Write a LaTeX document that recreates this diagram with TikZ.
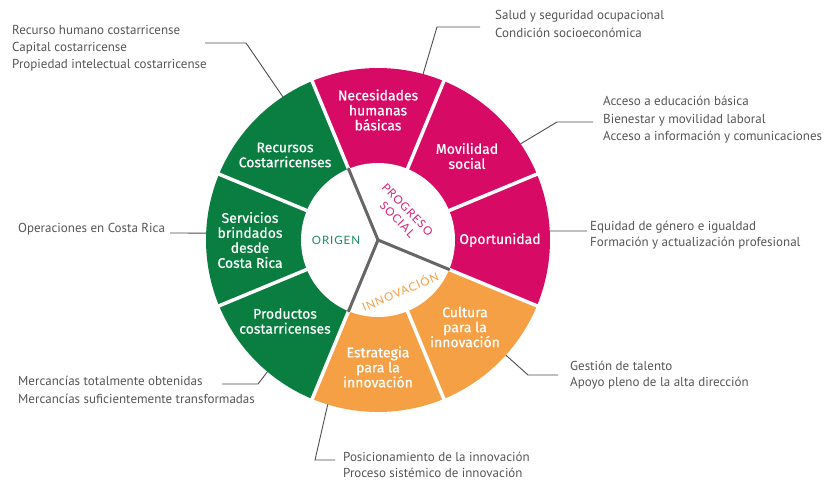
\documentclass[tikz,border=0pt]{standalone}
\usepackage{fontspec}
\setmainfont{PT Sans}
\newfontfamily\segfont[FakeBold=0.6]{Fira Sans}
\newfontfamily\ctrfont[LetterSpace=8]{Lato}
\usetikzlibrary{calc}
\definecolor{mag}{HTML}{D70A65}
\definecolor{grn}{HTML}{0A7D41}
\definecolor{org}{HTML}{F6A046}
\definecolor{spokegray}{HTML}{666666}
\definecolor{txtgray}{HTML}{555555}
\definecolor{linegray}{HTML}{4D4D4D}
\definecolor{ctrgreen}{HTML}{1E8C5F}
\definecolor{ctrmag}{HTML}{D6237A}
\begin{document}
\begin{tikzpicture}[x=1pt,y=1pt,
  seg/.style={text=white, font=\segfont\fontsize{14}{15}\selectfont, align=center, inner sep=0pt},
  note/.style={text=txtgray, font=\fontsize{13}{17}\selectfont, align=left, anchor=west, inner sep=0pt},
  lead/.style={draw=linegray, line width=0.9pt},
  ctr/.style={font=\ctrfont\fontsize{11.5}{14}\selectfont, align=center, inner sep=0pt}]
\useasboundingbox (0,0) rectangle (827,480);
\coordinate (C) at (378,240);
% sectors
\foreach \a/\col in {67.5/mag, 22.5/mag, -22.5/mag, -67.5/org, -112.5/org, -157.5/grn, 157.5/grn, 112.5/grn}
  \fill[\col] (C) -- ($(C)+(\a:172)$) arc[start angle=\a, delta angle=45, radius=172] -- cycle;
% white separators
\foreach \a in {22.5,67.5,112.5,157.5,202.5,247.5,292.5,337.5}
  \draw[white, line width=3.5pt] (C) -- ($(C)+(\a:176)$);
% inner disc
\fill[white] (C) circle[radius=77];
% spokes
\foreach \a in {112.5,-22.5,-112.5}
  \draw[spokegray, line width=3pt, line cap=round] (C) -- ($(C)+(\a:77)$);
% segment labels
\node[seg] (nec) at (378,370) {Necesidades\\humanas\\básicas};
\node[seg] (mov) at (467,324) {Movilidad\\social};
\node[seg] (opo) at (500,240) {Oportunidad};
\node[seg] (cul) at (465,153) {Cultura\\para la\\innovación};
\node[seg] (est) at (378,113) {Estrategia\\para la\\innovación};
\node[seg] (pro) at (285,159) {Productos\\costarricenses};
\node[seg] (ser) at (250,240) {Servicios\\brindados\\desde\\Costa Rica};
\node[seg] (rec) at (285,325) {Recursos\\Costarricenses};
% centre labels
\node[ctr, text=ctrgreen] (origen) at (336,240) {ORIGEN};
\node[ctr, text=ctrmag, rotate=-46] (prog) at (402.5,265.5) {PROGRESO\\SOCIAL};
\node[ctr, text=org, rotate=23] (inno) at (400,189) {INNOVACIÓN};
% notes
\node[note] (n1) at (12,432) {Recurso humano costarricense\\Capital costarricense\\Propiedad intelectual costarricense};
\node[note, font=\fontsize{13}{18}\selectfont] (n2) at (495,456) {Salud y seguridad ocupacional\\Condición socioeconómica};
\node[note, font=\fontsize{13}{17.5}\selectfont] (n3) at (603,360) {Acceso a educación básica\\Bienestar y movilidad laboral\\Acceso a información y comunicaciones};
\node[note, font=\fontsize{13}{16}\selectfont] (n4) at (590,245) {Equidad de género e igualdad\\Formación y actualización profesional};
\node[note] (n5) at (18,251) {Operaciones en Costa Rica};
\node[note, font=\fontsize{13}{18}\selectfont] (n6) at (18,90) {Mercancías totalmente obtenidas\\Mercancías suficientemente transformadas};
\node[note, font=\fontsize{13}{16}\selectfont] (n7) at (343,15) {Posicionamiento de la innovación\\Proceso sistémico de innovación};
\node[note, font=\fontsize{13}{16}\selectfont] (n8) at (570,105) {Gestión de talento\\Apoyo pleno de la alta dirección};
% leader lines
\coordinate (e1) at ($(C)+(123.6:172)$);
\coordinate (e2) at ($(C)+(74.8:172)$);
\coordinate (e3) at ($(C)+(34:172)$);
\coordinate (e4) at ($(C)+(3:172)$);
\coordinate (e5) at ($(C)+(177.7:172)$);
\coordinate (e6) at ($(C)+(230:172)$);
\coordinate (e7) at ($(C)+(253:172)$);
\coordinate (e8) at ($(C)+(-42:172)$);
\coordinate (s1) at (205,437); \coordinate (b1) at (246,437);
\coordinate (s2) at (480,453); \coordinate (b2) at (437,453);
\coordinate (s3) at (593,358); \coordinate (b3) at (557,358);
\coordinate (s4) at (587,249);
\coordinate (s5) at (170,247);
\coordinate (s6) at (222,96);  \coordinate (b6) at (258,96);
\coordinate (s7) at (335,20);  \coordinate (b7) at (315,20);
\coordinate (s8) at (558,105); \coordinate (b8) at (528,105);
\draw[lead] (s1) -- (b1) -- (e1);
\draw[lead] (s2) -- (b2) -- (e2);
\draw[lead] (s3) -- (b3) -- (e3);
\draw[lead] (s4) -- (e4);
\draw[lead] (s5) -- (e5);
\draw[lead] (s6) -- (b6) -- (e6);
\draw[lead] (s7) -- (b7) -- (e7);
\draw[lead] (s8) -- (b8) -- (e8);
\end{tikzpicture}
\end{document}
